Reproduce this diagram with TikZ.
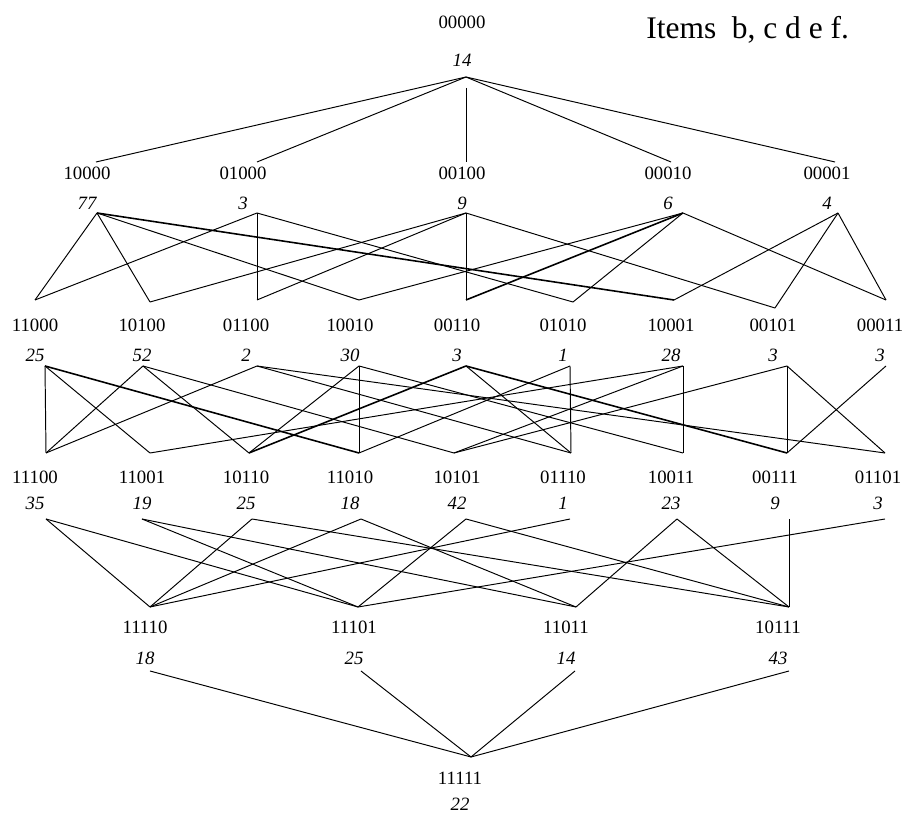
\documentclass[tikz,border=0pt]{standalone}
\usepackage{fontspec}
\setmainfont{Liberation Serif}
\tikzstyle{setlabel}=[font=\fontsize{10.7}{12}\selectfont, inner sep=0pt]
\tikzstyle{supp}=[font=\fontsize{10.7}{12}\selectfont\itshape, inner sep=0pt]
\tikzstyle{heading}=[font=\fontsize{17.9}{20}\selectfont, inner sep=0pt]
\tikzstyle{edge}=[line width=0.55pt]
\tikzstyle{heavy}=[line width=0.9pt]

\begin{document}
\begin{tikzpicture}[x=0.02cm,y=-0.02cm]
\useasboundingbox (0,0) rectangle (907,813);
\node[heading, anchor=base west] (items) at (646,39) {Items\ \ b, c d e f.};

% empty set
\node[setlabel] (l00000) at (462,22) {00000};
\node[supp] (c00000) at (462,60) {14};
\coordinate (o00000) at (466,77);

% one item
\foreach \n/\lx/\ix/\ox/\c in {10000/87/96/97/77, 01000/243/257/257/3,
    00100/462/466/466/9, 00010/668/671/683/6, 00001/827/835/838/4}{
  \node[setlabel] (l\n) at (\lx,173) {\n};
  \node[supp] (c\n) at (\lx,203) {\c};
  \coordinate (i\n) at (\ix,162);
  \coordinate (o\n) at (\ox,213);
}

% two items
\foreach \n/\lx/\ix/\iy/\ox/\c in {11000/35/35/300/45/25, 10100/142/150/302/143/52,
    01100/246/257/300/257/2, 10010/350/359/300/359/30, 00110/457/466/300/466/3,
    01010/563/573/302/570/1, 10001/671/674/300/683/28, 00101/773/775/308/787/3,
    00011/880/886/300/886/3}{
  \node[setlabel] (l\n) at (\lx,325) {\n};
  \node[supp] (c\n) at (\lx,355) {\c};
  \coordinate (i\n) at (\ix,\iy);
  \coordinate (o\n) at (\ox,366);
}

% three items
\foreach \n/\lx/\ix/\ox/\c in {11100/35/46/46/35, 11001/142/150/142/19,
    10110/246/249/252/25, 11010/350/359/361/18, 10101/457/454/466/42,
    01110/563/571/570/1, 10011/671/683/677/23, 00111/775/787/789/9,
    01101/878/885/885/3}{
  \node[setlabel] (l\n) at (\lx,477) {\n};
  \node[supp] (c\n) at (\lx,503) {\c};
  \coordinate (i\n) at (\ix,453);
  \coordinate (o\n) at (\ox,519);
}

% four items
\foreach \n/\lx/\ix/\ox/\c in {11110/145/150/150/18, 11101/354/358/361/25,
    11011/566/576/575/14, 10111/778/789/789/43}{
  \node[setlabel] (l\n) at (\lx,627) {\n};
  \node[supp] (c\n) at (\lx,658) {\c};
  \coordinate (i\n) at (\ix,607);
  \coordinate (o\n) at (\ox,671);
}

% all items
\node[setlabel] (l11111) at (460,778) {11111};
\node[supp] (c11111) at (460,804) {22};
\coordinate (i11111) at (471,757);

% lattice edges
\foreach \a/\b in {00000/10000, 00000/01000, 00000/00010, 00000/00001}
  \draw[edge] (o\a) -- (i\b);
\draw[edge, shorten <=0.22cm] (o00000) -- (i00100);

\foreach \a/\b in {10000/11000, 10000/10100, 10000/10010,
    01000/11000, 01000/01100, 01000/01010,
    00100/10100, 00100/01100, 00100/00110, 00100/00101,
    00010/10010, 00010/01010, 00010/00011,
    00001/10001, 00001/00101, 00001/00011}
  \draw[edge] (o\a) -- (i\b);
\draw[heavy] (o10000) -- (i10001);
\draw[heavy] (o00010) -- (i00110);

\foreach \a/\b in {11000/11100, 11000/11001,
    10100/11100, 10100/10110, 10100/10101,
    01100/11100, 01100/01110, 01100/01101,
    10010/10110, 10010/11010, 10010/10011,
    00110/01110,
    01010/11010, 01010/01110,
    10001/11001, 10001/10101, 10001/10011,
    00101/10101, 00101/00111, 00101/01101,
    00011/00111}
  \draw[edge] (o\a) -- (i\b);
\draw[heavy] (o11000) -- (i11010);
\draw[heavy] (o00110) -- (i10110);
\draw[heavy] (o00110) -- (i00111);

\foreach \a/\b in {11100/11110, 11100/11101, 11001/11101, 11001/11011,
    10110/11110, 10110/10111, 11010/11110, 11010/11011,
    10101/11101, 10101/10111, 01110/11110, 10011/11011,
    10011/10111, 00111/10111, 01101/11101}
  \draw[edge] (o\a) -- (i\b);

\foreach \a in {11110, 11101, 11011, 10111}
  \draw[edge] (o\a) -- (i11111);
\end{tikzpicture}
\end{document}
